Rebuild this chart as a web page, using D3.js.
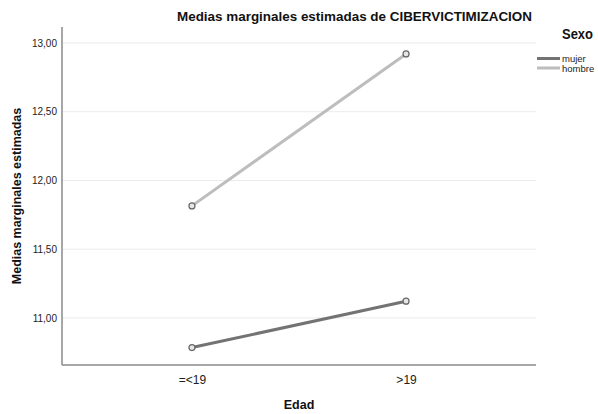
<!DOCTYPE html>
<html><head><meta charset="utf-8">
<script src="https://cdn.jsdelivr.net/npm/d3@7"></script>
<style>body{margin:0;background:#fff}svg{display:block;font-family:Arial,"Liberation Sans",sans-serif}</style>
</head><body><svg id="c" width="598" height="414"></svg>
<script>
const categories = ["=<19", ">19"];
const seriesNames = ["mujer", "hombre"];
const mujer = [10.785, 11.122];
const hombre = [11.815, 12.92];
const yTicks = [11.0, 11.5, 12.0, 12.5, 13.0];
const colors = ["#737373", "#bdbdbd"];

const svg = d3.select("#c");
const L = 62, R = 536, T = 27, B = 365;
const x = d3.scalePoint().domain(categories).range([L, R]).padding(0.607);
const y = d3.scaleLinear().domain([10.658, 13.116]).range([B, T]);
const fmt = v => d3.format(".2f")(v).replace(".", ",");

// gridlines
svg.append("g").selectAll("line").data(yTicks).join("line")
  .attr("x1", L).attr("x2", R).attr("y1", d => y(d)).attr("y2", d => y(d))
  .attr("stroke", "#ebebeb").attr("stroke-width", 1);

// y axis
const ya = svg.append("g").attr("transform", `translate(${L},0)`)
  .call(d3.axisLeft(y).tickValues(yTicks).tickFormat(fmt).tickSize(0).tickPadding(5));
ya.select(".domain").remove();
ya.selectAll("text").attr("font-size", 10).attr("fill", "#222").attr("font-family", "Arial,'Liberation Sans',sans-serif");

const xa = svg.append("g").attr("transform", `translate(0,${B})`)
  .call(d3.axisBottom(x).tickSize(0).tickPadding(10));
xa.select(".domain").remove();
xa.selectAll("text").attr("font-size", 12).attr("fill", "#222").attr("font-family", "Arial,'Liberation Sans',sans-serif");

// axis lines
svg.append("line").attr("x1", L).attr("x2", L).attr("y1", T).attr("y2", B).attr("stroke", "#8a8a8a").attr("stroke-width", 1.5);
svg.append("line").attr("x1", L).attr("x2", R).attr("y1", B).attr("y2", B).attr("stroke", "#8a8a8a").attr("stroke-width", 1.5);

// series
const series = [mujer, hombre];
const line = d3.line().x((d, i) => x(categories[i])).y(d => y(d));
series.forEach((s, k) => {
  svg.append("path").datum(s).attr("d", line).attr("fill", "none")
    .attr("stroke", colors[k]).attr("stroke-width", 3);
});
series.forEach((s, k) => {
  svg.append("g").selectAll("circle").data(s).join("circle")
    .attr("cx", (d, i) => x(categories[i])).attr("cy", d => y(d)).attr("r", 3)
    .attr("fill", "#e6e6e6").attr("stroke", "#666").attr("stroke-width", 1.2);
});

// title
svg.append("text").attr("x", 177).attr("y", 21)
  .attr("font-size", 13).attr("font-weight", "bold").attr("fill", "#111")
  .attr("textLength", 355).attr("lengthAdjust", "spacingAndGlyphs")
  .text("Medias marginales estimadas de CIBERVICTIMIZACION");
// axis titles
svg.append("text").attr("transform", "translate(21,196) rotate(-90)").attr("text-anchor", "middle")
  .attr("font-size", 12.5).attr("font-weight", "bold").attr("fill", "#111")
  .text("Medias marginales estimadas");
svg.append("text").attr("x", 299).attr("y", 409).attr("text-anchor", "middle")
  .attr("font-size", 12.5).attr("font-weight", "bold").attr("fill", "#111").text("Edad");

// legend
svg.append("text").attr("x", 562).attr("y", 38.5).attr("font-size", 14).attr("font-weight", "bold").attr("fill", "#111")
  .attr("textLength", 31).attr("lengthAdjust", "spacingAndGlyphs").text("Sexo");
seriesNames.forEach((n, k) => {
  const yy = 58.5 + k * 9.5;
  svg.append("line").attr("x1", 537).attr("x2", 560).attr("y1", yy).attr("y2", yy)
    .attr("stroke", colors[k]).attr("stroke-width", 3);
  svg.append("text").attr("x", 562).attr("y", yy + 3.5).attr("font-size", 9.5).attr("fill", "#222").text(n);
});
</script></body></html>
